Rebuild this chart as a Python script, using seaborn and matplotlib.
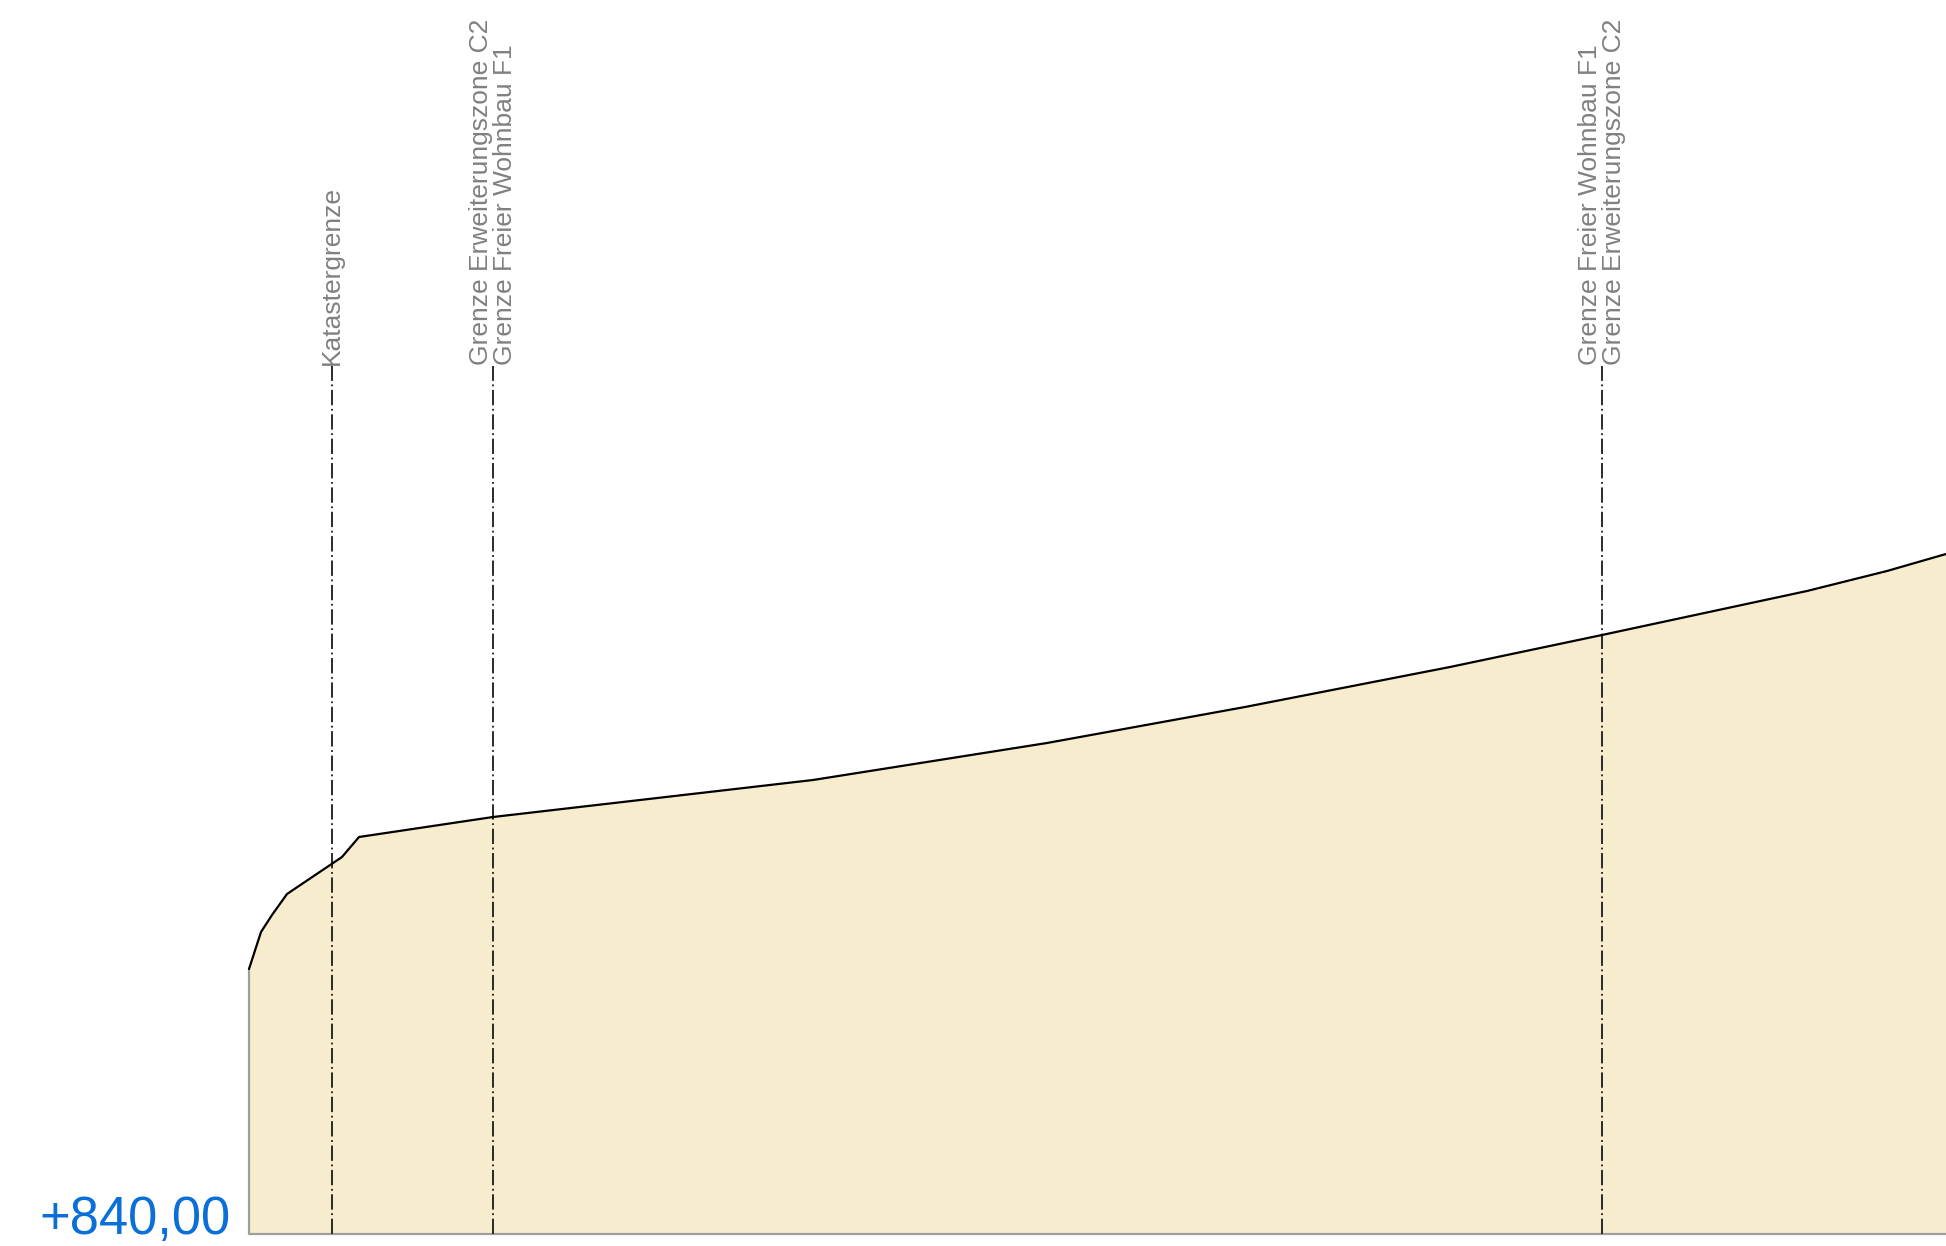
import numpy as np
import pandas as pd
import matplotlib
matplotlib.use("Agg")
import matplotlib.pyplot as plt
import seaborn as sns

# ---- data (metres) ----
station = [0.00, 0.24, 0.46, 0.76, 1.86, 2.20, 4.88, 11.28, 15.96, 19.92,
           24.02, 27.06, 31.16, 32.76, 33.94]
elevation = [845.30, 846.04, 846.38, 846.80, 847.54, 847.94, 848.34, 849.08,
             849.82, 850.54, 851.34, 851.98, 852.86, 853.26, 853.60]
boundary_x = [1.66, 4.88, 27.06]
boundary_labels = [
    "Katastergrenze",
    "Grenze Erweiterungszone C2\nGrenze Freier Wohnbau F1",
    "Grenze Freier Wohnbau F1\nGrenze Erweiterungszone C2",
]
base_level = 840.00
base_label = "+840,00"
line_top = 857.36

df = pd.DataFrame({"station": station, "elevation": elevation})

sns.set_theme(style="white")
plt.rcParams["font.family"] = ["Liberation Sans", "DejaVu Sans"]

fig = plt.figure(figsize=(19.46, 12.46), dpi=100)
ax = fig.add_axes([0, 0, 1, 1])
ax.set_axis_off()

# ground fill
ax.fill_between(df["station"], base_level, df["elevation"],
                color="#f7ecce", linewidth=0, zorder=1)
# gray left and bottom edge
ax.plot([station[0], station[0], station[-1]],
        [elevation[0], base_level, base_level],
        color="#9e9e9e", linewidth=1.6, zorder=2, solid_capstyle="butt")
# terrain profile
sns.lineplot(data=df, x="station", y="elevation", ax=ax, color="black",
             linewidth=1.6, sort=False, estimator=None, zorder=4)

# boundary lines
for bx, lab in zip(boundary_x, boundary_labels):
    ax.plot([bx, bx], [base_level, line_top], color="#1a1a1a",
            linewidth=1.3, linestyle=(0, (8.5, 2, 1, 2)), zorder=3)
    ax.text(bx, line_top + 0.02, lab, rotation=90, ha="center", va="bottom",
            multialignment="left", color="#808080", fontsize=19.0,
            linespacing=1.0, zorder=5)

# level label
ax.text(-0.38, base_level, base_label, ha="right", va="baseline",
        color="#0b6fd8", fontsize=37.8, zorder=5)

ax.set_xlim(-4.98, 33.94)
ax.set_ylim(839.76, 864.68)

fig.savefig("out.png", dpi=100)
